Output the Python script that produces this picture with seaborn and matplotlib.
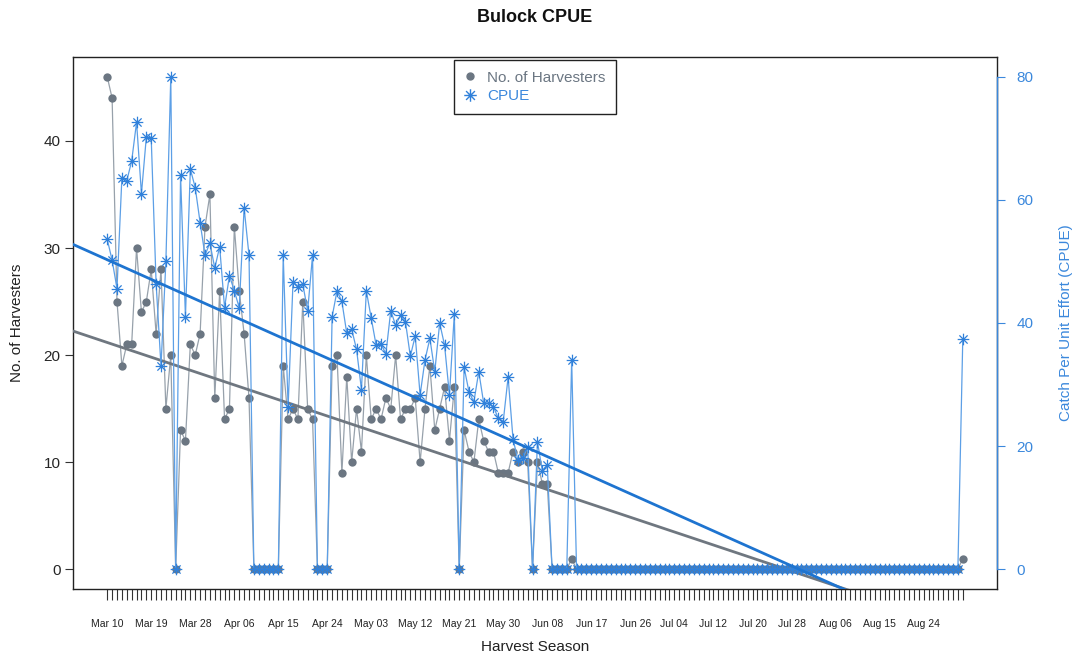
import numpy as np
import pandas as pd
import matplotlib
matplotlib.use("Agg")
import matplotlib.pyplot as plt
import seaborn as sns
from matplotlib.path import Path
from matplotlib.lines import Line2D

# ---------------- data ----------------
start_date = "2021-03-10"
n_days = 176

harvesters = [
    46, 44, 25, 19, 21, 21, 30, 24, 25, 28,
    22, 28, 15, 20, 0, 13, 12, 21, 20, 22,
    32, 35, 16, 26, 14, 15, 32, 26, 22, 16,
    0, 0, 0, 0, 0, 0, 19, 14, 15, 14,
    25, 15, 14, 0, 0, 0, 19, 20, 9, 18,
    10, 15, 11, 20, 14, 15, 14, 16, 15, 20,
    14, 15, 15, 16, 10, 15, 19, 13, 15, 17,
    12, 17, 0, 13, 11, 10, 14, 12, 11, 11,
    9, 9, 9, 11, 10, 11, 10, 0, 10, 8,
    8, 0, 0, 0, 0, 1, 0, 0, 0, 0,
    0, 0, 0, 0, 0, 0, 0, 0, 0, 0,
    0, 0, 0, 0, 0, 0, 0, 0, 0, 0,
    0, 0, 0, 0, 0, 0, 0, 0, 0, 0,
    0, 0, 0, 0, 0, 0, 0, 0, 0, 0,
    0, 0, 0, 0, 0, 0, 0, 0, 0, 0,
    0, 0, 0, 0, 0, 0, 0, 0, 0, 0,
    0, 0, 0, 0, 0, 0, 0, 0, 0, 0,
    0, 0, 0, 0, 0, 1,
]

cpue = [
    53.6, 50.2, 45.6, 63.6, 63.1, 66.3, 72.6, 61.0, 70.2, 70.0,
    46.4, 33.0, 50.0, 80.0, 0, 64.0, 41.0, 65.0, 62.0, 56.3,
    51.0, 53.0, 48.9, 52.4, 42.5, 47.7, 45.2, 42.5, 58.7, 51.0,
    0, 0, 0, 0, 0, 0, 51.0, 26.4, 46.6, 45.9,
    46.3, 42.0, 51.0, 0, 0, 0, 41.0, 45.2, 43.5, 38.3,
    39.0, 35.7, 29.2, 45.2, 40.8, 36.4, 36.6, 35.0, 42.0, 39.6,
    41.3, 40.2, 34.6, 37.9, 28.3, 34.0, 37.5, 32.1, 40.0, 36.4,
    28.3, 41.5, 0, 32.8, 28.8, 27.2, 32.1, 27.0, 27.0, 26.4,
    24.5, 24.0, 31.2, 21.2, 17.7, 18.0, 19.9, 0, 20.7, 16.0,
    17.0, 0, 0, 0, 0, 34.0, 0, 0, 0, 0,
    0, 0, 0, 0, 0, 0, 0, 0, 0, 0,
    0, 0, 0, 0, 0, 0, 0, 0, 0, 0,
    0, 0, 0, 0, 0, 0, 0, 0, 0, 0,
    0, 0, 0, 0, 0, 0, 0, 0, 0, 0,
    0, 0, 0, 0, 0, 0, 0, 0, 0, 0,
    0, 0, 0, 0, 0, 0, 0, 0, 0, 0,
    0, 0, 0, 0, 0, 0, 0, 0, 0, 0,
    0, 0, 0, 0, 0, 37.4,
]

tick_label_dates = ["Mar 10", "Mar 19", "Mar 28", "Apr 06", "Apr 15", "Apr 24",
                    "May 03", "May 12", "May 21", "May 30", "Jun 08", "Jun 17",
                    "Jun 26", "Jul 04", "Jul 12", "Jul 20", "Jul 28", "Aug 06",
                    "Aug 15", "Aug 24"]

left_ticks = [0, 10, 20, 30, 40]
right_ticks = [0, 20, 40, 60, 80]

# ---------------- frame ----------------
dates = pd.date_range(start_date, periods=n_days, freq="D")
day = (dates - dates[0]).days.values.astype(float)
df = pd.DataFrame({"day": day, "harvesters": harvesters, "cpue": cpue})

lab_days = [(pd.to_datetime(f"{s} {dates[0].year}", format="%b %d %Y") - dates[0]).days
            for s in tick_label_dates]

sns.set_theme(style="white")
plt.rcParams["font.family"] = ["Liberation Sans", "DejaVu Sans"]

gray_pt = "#6B7682"
gray_ln = "#97A1AB"
gray_reg = "#6F7780"
blue_pt = "#2F80DA"
blue_ln = "#5C9FE6"
blue_reg = "#1E74D0"
blue_txt = "#3B88DC"

W, H = 1082, 657
fig = plt.figure(figsize=(W / 100, H / 100), dpi=100)
ax = fig.add_axes([73 / W, 1 - 589 / H, (997 - 73) / W, (589 - 57) / H])
ax2 = ax.twinx()

xlim = (-0.04 * (n_days - 1), (n_days - 1) * 1.04)
ax.set_xlim(*xlim)
ax.set_ylim(-0.04 * 46, 46 * 1.04)
ax2.set_ylim(-0.04 * 80, 80 * 1.04)

# asterisk marker like R pch 8
ast = Path([(-1, 0), (1, 0), (0, -1), (0, 1),
            (-0.707, -0.707), (0.707, 0.707), (-0.707, 0.707), (0.707, -0.707)],
           [Path.MOVETO, Path.LINETO] * 4)

# harvesters
sns.lineplot(data=df, x="day", y="harvesters", ax=ax, color=gray_ln, lw=0.9,
             legend=False, zorder=2)
sns.scatterplot(data=df, x="day", y="harvesters", ax=ax, color=gray_pt, s=36,
                linewidth=0, legend=False, zorder=3)
sns.regplot(data=df, x="day", y="harvesters", ax=ax, scatter=False, ci=None,
            truncate=False, color=gray_reg, line_kws=dict(lw=2.0, zorder=4))

# cpue
sns.lineplot(data=df, x="day", y="cpue", ax=ax2, color=blue_ln, lw=0.9,
             legend=False, zorder=2)
sns.scatterplot(data=df, x="day", y="cpue", ax=ax2, marker=ast, s=70,
                color=blue_pt, edgecolor=blue_pt, linewidth=0.9, legend=False,
                zorder=3)
sns.regplot(data=df, x="day", y="cpue", ax=ax2, scatter=False, ci=None,
            truncate=False, color=blue_reg, line_kws=dict(lw=2.0, zorder=4))

ax.set_xlim(*xlim)
ax2.set_xlim(*xlim)

# x axis ticks
ax.set_xticks(lab_days)
ax.set_xticklabels(tick_label_dates, fontsize=7.5, color="#222222")
ax.set_xticks(day, minor=True)
ax.tick_params(axis="x", which="both", direction="out", length=8, width=0.8,
               color="#333333", pad=13.5, bottom=True)

# left axis
ax.set_yticks(left_ticks)
ax.set_yticklabels([str(t) for t in left_ticks], fontsize=11)
ax.tick_params(axis="y", direction="out", length=6, width=0.8, pad=3, left=True,
               color="#333333")

# right axis
ax2.set_yticks(right_ticks)
ax2.set_yticklabels([str(t) for t in right_ticks], fontsize=11, color=blue_txt)
ax2.tick_params(axis="y", direction="out", length=6, width=0.8, pad=8,
                right=True, color=blue_txt)

for s in ax.spines.values():
    s.set_color("#222222")
    s.set_linewidth(1.0)
for k in ["top", "left", "bottom"]:
    ax2.spines[k].set_visible(False)
ax2.spines["right"].set_color(blue_txt)
ax2.spines["right"].set_linewidth(1.0)
ax2.spines["right"].set_bounds(0, 80)

# labels
ax.set_xlabel("Harvest Season", fontsize=11, color="#222222")
ax.xaxis.set_label_coords(0.5, (589 - 647) / 532)
ax.xaxis.label.set_va("center")
ax.set_ylabel("No. of Harvesters", fontsize=11, color="#222222")
ax.yaxis.set_label_coords((17 - 73) / 924, 0.5)
ax.yaxis.label.set_va("center")
ax2.set_ylabel("Catch Per Unit Effort (CPUE)", fontsize=11, color=blue_txt)
ax2.yaxis.set_label_coords((1066 - 73) / 924, 0.5)
ax2.yaxis.label.set_va("center")

fig.text(535 / W, 1 - 18 / H, "Bulock CPUE", ha="center", va="center",
         fontsize=13, fontweight="bold", color="#111111")

# legend
handles = [
    Line2D([], [], marker="o", color=gray_pt, linestyle="none", markersize=5),
    Line2D([], [], marker=ast, color=blue_pt, linestyle="none", markersize=9,
           markeredgewidth=1.0),
]
leg = ax2.legend(handles, ["No. of Harvesters", "CPUE"], loc="upper center",
                 bbox_to_anchor=(0.5, 1 - 3 / 532), borderaxespad=0,
                 fontsize=11, frameon=True, fancybox=False, framealpha=1,
                 edgecolor="#222222", handlelength=0.8, handletextpad=0.7,
                 borderpad=0.7, labelspacing=0.3,
                 labelcolor=[gray_pt, blue_txt])
leg.get_frame().set_linewidth(1.0)

fig.savefig("out.png", dpi=100)
